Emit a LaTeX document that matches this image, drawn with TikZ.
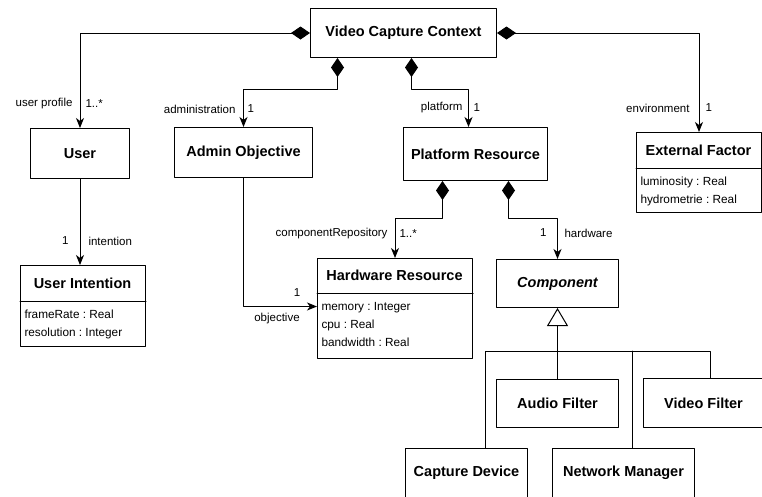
\documentclass[tikz,border=0pt]{standalone}
\usepackage{fontspec}
\setmainfont{Liberation Sans}
\usepackage{tikz}
\usetikzlibrary{arrows.meta}

\newcommand{\titlefont}{\fontsize{14.5}{17}\selectfont\bfseries}
\newcommand{\attrfont}{\fontsize{11.8}{18}\selectfont\frenchspacing}
\newcommand{\astrut}{\rule{0pt}{13pt}}

\begin{document}
\begin{tikzpicture}[line cap=round,line join=round,x=1pt,y=-1pt,line width=1pt,
  klass/.style={draw,rectangle,inner sep=0pt,anchor=north west,font=\titlefont},
  ktitle/.style={inner sep=0pt,font=\titlefont},
  kattr/.style={inner sep=0pt,anchor=north west,align=left,font=\attrfont},
  lbl/.style={inner sep=0pt,font=\fontsize{11.5}{13}\selectfont},
  composition/.style={{Diamond[length=19pt,width=13pt]}-{Stealth[length=10pt,width=8pt,inset=3pt]}},
  assoc/.style={-{Stealth[length=10pt,width=8pt,inset=3pt]}},
  inherit/.style={-{Triangle[open,length=18pt,width=21pt]}}]

\useasboundingbox (0,0) rectangle (762,496);

% classes
\node[klass,minimum width=186pt,minimum height=49pt] (vcc) at (310,8) {Video Capture Context};
\node[klass,minimum width=99pt,minimum height=50pt] (user) at (30,128) {User};
\node[klass,minimum width=138pt,minimum height=50pt] (admin) at (174,127) {Admin Objective};
\node[klass,minimum width=144pt,minimum height=53pt] (plat) at (403,127) {Platform Resource};
\node[klass,minimum width=122pt,minimum height=48pt] (comp) at (496,259) {\itshape Component};
\node[klass,minimum width=122pt,minimum height=48pt] (audio) at (496,379) {Audio Filter};
\node[klass,minimum width=120pt,minimum height=49pt] (vfilt) at (643,378) {Video Filter};
\node[klass,minimum width=122pt,minimum height=49pt] (capdev) at (405,448) {Capture Device};
\node[klass,minimum width=142pt,minimum height=49pt] (netmgr) at (552,448) {Network Manager};

% classes with attributes
\node[klass,minimum width=125pt,minimum height=80pt] (ext) at (636,132) {};
\node[ktitle] (extT) at (698.5,150) {External Factor};
\draw (ext.west |- 0,168) -- (ext.east |- 0,168);
\node[kattr] (extA) at (640,172) {\astrut luminosity : Real\\hydrometrie : Real};

\node[klass,minimum width=125pt,minimum height=81pt] (ui) at (20,265) {};
\node[ktitle] (uiT) at (82.5,283) {User Intention};
\draw (ui.west |- 0,301) -- (ui.east |- 0,301);
\node[kattr] (uiA) at (24,305) {\astrut frameRate : Real\\resolution : Integer};

\node[klass,minimum width=155pt,minimum height=100pt] (hw) at (317,258) {};
\node[ktitle] (hwT) at (394.5,275.5) {Hardware Resource};
\draw (hw.west |- 0,293) -- (hw.east |- 0,293);
\node[kattr] (hwA) at (321,297) {\astrut memory : Integer\\cpu : Real\\bandwidth : Real};

% compositions
\draw[composition] (vcc.west) -| (user.north);
\draw[composition] ([xshift=-66pt]vcc.south) -- ++(0,31) -| (admin.north);
\draw[composition] ([xshift=8pt]vcc.south) -- ++(0,31) -| ([xshift=-7pt]plat.north);
\draw[composition] (vcc.east) -| (ext.north);
\draw[composition] ([xshift=-33pt]plat.south) -- ++(0,37) -| (hw.north);
\draw[composition] ([xshift=33pt]plat.south) -- ++(0,37) -| (comp.north);

% associations
\draw[assoc] (user.south) -- (user.south |- ui.north);
\draw[assoc] (admin.south) |- ([yshift=2pt]hw.west);

% inheritance
\coordinate (gen) at (557,351);
\draw[inherit] (audio.north) -- (comp.south);
\draw ([xshift=19pt]capdev.north) |- ([xshift=7pt]vfilt.north |- gen) -- ([xshift=7pt]vfilt.north);
\draw ([xshift=9pt]netmgr.north) -- ([xshift=9pt]netmgr.north |- gen);

% role names and multiplicities
\node[lbl,anchor=east] (lprofile) at (73,104) {user profile};
\node[lbl,anchor=west] (mprofile) at (85,104) {1..*};
\node[lbl,anchor=east] (ladmin) at (236,109) {administration};
\node[lbl,anchor=west] (madmin) at (247,109) {1};
\node[lbl,anchor=east] (lplat) at (463,108) {platform};
\node[lbl,anchor=west] (mplat) at (473,108) {1};
\node[lbl,anchor=east] (lenv) at (690,108) {environment};
\node[lbl,anchor=west] (menv) at (705,108) {1};
\node[lbl,anchor=west] (lintent) at (88,241) {intention};
\node[lbl,anchor=east] (mintent) at (69,241) {1};
\node[lbl,anchor=east] (lrepo) at (388,234) {componentRepository};
\node[lbl,anchor=west] (mrepo) at (399,234) {1..*};
\node[lbl,anchor=east] (mhard) at (547,233) {1};
\node[lbl,anchor=west] (lhard) at (564,233) {hardware};
\node[lbl] (mobj) at (297,293) {1};
\node[lbl] (lobj) at (277,319) {objective};

\end{tikzpicture}
\end{document}
